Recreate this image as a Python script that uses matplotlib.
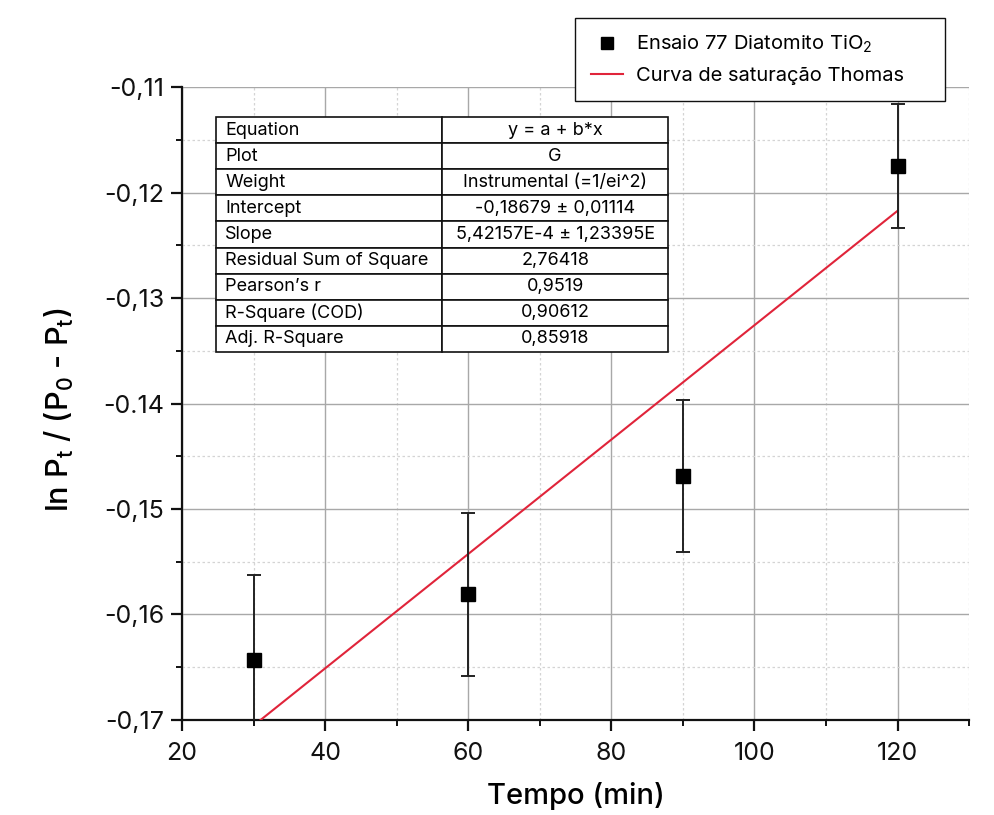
import matplotlib
matplotlib.use("Agg")
import matplotlib.pyplot as plt
import numpy as np
from matplotlib.lines import Line2D
from matplotlib.ticker import MultipleLocator, FixedLocator, FixedFormatter

plt.rcParams['font.family'] = ['Inter', 'DejaVu Sans']
plt.rcParams['mathtext.fontset'] = 'custom'
plt.rcParams['mathtext.rm'] = 'Inter'
plt.rcParams['mathtext.it'] = 'Inter'
plt.rcParams['mathtext.default'] = 'regular'

# Measurements
tempo = [30, 60, 90, 120]
ln_ratio = [-0.1643, -0.1581, -0.1469, -0.1175]
erro = [0.0080, 0.0077, 0.0072, 0.0059]

# Linear fit parameters
intercept = -0.18679
slope = 5.42157e-4

y_ticks = [-0.17, -0.16, -0.15, -0.14, -0.13, -0.12, -0.11]
y_tick_labels = ["-0,17", "-0,16", "-0,15", "-0.14", "-0,13", "-0,12", "-0,11"]
x_ticks = [20, 40, 60, 80, 100, 120]

table_rows = [
    ("Equation", "y = a + b*x"),
    ("Plot", "G"),
    ("Weight", "Instrumental (=1/ei^2)"),
    ("Intercept", "-0,18679 ± 0,01114"),
    ("Slope", "5,42157E-4 ± 1,23395E"),
    ("Residual Sum of Square", "2,76418"),
    ("Pearson’s r", "0,9519"),
    ("R-Square (COD)", "0,90612"),
    ("Adj. R-Square", "0,85918"),
]

fig = plt.figure(figsize=(9.95, 8.15), dpi=100)
ax = fig.add_axes([0.183, 0.1166, 0.791, 0.7766])

ax.set_xlim(20, 130)
ax.set_ylim(-0.17, -0.11)

ax.xaxis.set_major_locator(FixedLocator(x_ticks))
ax.xaxis.set_minor_locator(MultipleLocator(10))
ax.yaxis.set_major_locator(FixedLocator(y_ticks))
ax.yaxis.set_major_formatter(FixedFormatter(y_tick_labels))
ax.yaxis.set_minor_locator(MultipleLocator(0.005))

ax.grid(which='major', color='#a8a8a8', linewidth=1.0, linestyle='-')
ax.grid(which='minor', color='#d4d4d4', linewidth=0.9, linestyle=(0, (2, 2)))
ax.set_axisbelow(True)

for side in ('top', 'right'):
    ax.spines[side].set_visible(False)
for side in ('left', 'bottom'):
    ax.spines[side].set_linewidth(1.6)
    ax.spines[side].set_color('#111111')

ax.tick_params(which='major', direction='out', length=8, width=1.6,
               labelsize=18, colors='#111111')
ax.tick_params(axis='x', which='major', pad=8)
ax.tick_params(axis='y', which='major', pad=5)
ax.tick_params(which='minor', direction='out', length=4, width=1.4, colors='#111111')

# Fit line
xf = np.array([tempo[0], tempo[-1]], dtype=float)
yf = intercept + slope * xf
ax.plot(xf, yf, color='#e0243a', linewidth=1.5, zorder=3)

# Data with error bars
ax.errorbar(tempo, ln_ratio, yerr=erro, fmt='none', ecolor='#222222',
            elinewidth=1.4, capsize=5, capthick=1.4, zorder=4)
ax.plot(tempo, ln_ratio, linestyle='none', marker='s', markersize=10.5,
        color='black', zorder=5, clip_on=False)

ax.set_xlabel("Tempo (min)", fontsize=21, fontweight='medium', va='bottom')
ax.xaxis.set_label_coords(0.5, -0.143)
ax.set_ylabel("ln P$_t$ / (P$_0$ - P$_t$)", fontsize=22, fontweight='medium')
ax.yaxis.set_label_coords(-0.135, 0.49)

# Fit summary table
tbl = ax.table(cellText=[list(r) for r in table_rows],
               cellLoc='center', colWidths=[0.5, 0.5],
               bbox=[0.0432, 0.5814, 0.5743, 0.3712], zorder=6)
tbl.auto_set_font_size(False)
tbl.set_fontsize(13)
for (r, c), cell in tbl.get_celld().items():
    cell.set_edgecolor('#111111')
    cell.set_linewidth(1.2)
    cell.set_facecolor('white')
    if c == 0:
        cell.get_text().set_ha('left')
        cell.PAD = 0.04

# Legend
handles = [
    Line2D([], [], linestyle='none', marker='s', markersize=9, color='black'),
    Line2D([], [], color='#e0243a', linewidth=1.5),
]
labels = ["Ensaio 77 Diatomito TiO$_2$", "Curva de saturação Thomas"]
leg = fig.legend(handles, labels, loc='center',
                 bbox_to_anchor=(0.578, 0.875, 0.372, 0.104), mode='expand',
                 borderaxespad=0.0,
                 fontsize=14.5, frameon=True, fancybox=False, framealpha=1,
                 edgecolor='#111111', borderpad=0.8, handlelength=1.6,
                 handletextpad=0.6, labelspacing=0.6)
leg.get_frame().set_linewidth(1.0)

fig.savefig("out.png", dpi=100)
